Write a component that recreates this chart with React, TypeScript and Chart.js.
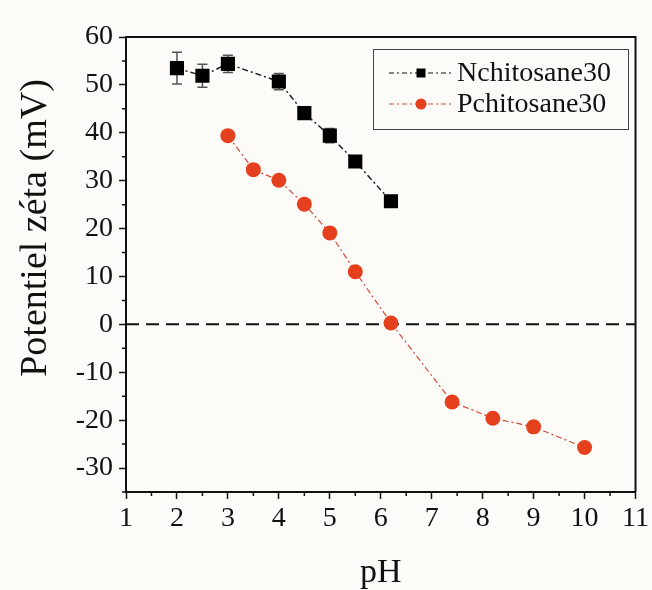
import { useEffect, useRef } from 'react';
import { Chart, registerables } from 'chart.js';

Chart.register(...registerables);

// ---- data ----
const pH_N = [2, 2.5, 3, 4, 4.5, 5, 5.5, 6.2];
const zeta_N = [53.5, 51.9, 54.4, 50.7, 44.1, 39.4, 34.0, 25.7];
const err_N = [3.3, 2.4, 1.8, 1.7, 1.0, 1.5, 1.0, 0.5];

const pH_P = [3, 3.5, 4, 4.5, 5, 5.5, 6.2, 7.4, 8.2, 9, 10];
const zeta_P = [39.4, 32.3, 30.1, 25.1, 19.1, 11.0, 0.3, -16.2, -19.6, -21.4, -25.7];
const err_P = [0.8, 0.6, 0.6, 0.6, 0.6, 0.6, 0.5, 0.5, 0.5, 0.5, 0.5];

const zeroLineX = [1, 11];
const zeroLineY = [0, 0];

const seriesNames = ['Nchitosane30', 'Pchitosane30'];
const xTitle = 'pH';
const yTitle = 'Potentiel zéta (mV)';

const FONT = "'Liberation Serif', 'Times New Roman', serif";
const INK = '#111111';
const RED = '#e5401d';
const RED_LINE = '#cf4a35';

const bgPlugin = {
  id: 'bg',
  beforeDraw(chart: any) {
    const { ctx, width, height } = chart;
    ctx.save();
    ctx.fillStyle = '#fdfbf8';
    ctx.fillRect(0, 0, width, height);
    ctx.restore();
  },
};

const errorBarPlugin = {
  id: 'errorBars',
  beforeDatasetsDraw(chart: any) {
    const { ctx } = chart;
    const xs = chart.scales.x;
    const ys = chart.scales.y;
    chart.data.datasets.forEach((ds: any) => {
      if (!ds.errors) return;
      ctx.save();
      ctx.strokeStyle = ds.errorColor;
      ctx.lineWidth = 1.5;
      ds.data.forEach((p: any, i: number) => {
        const e = ds.errors[i];
        const x = xs.getPixelForValue(p.x);
        const yt = ys.getPixelForValue(p.y + e);
        const yb = ys.getPixelForValue(p.y - e);
        ctx.beginPath();
        ctx.moveTo(x, yt);
        ctx.lineTo(x, yb);
        ctx.moveTo(x - 5, yt);
        ctx.lineTo(x + 5, yt);
        ctx.moveTo(x - 5, yb);
        ctx.lineTo(x + 5, yb);
        ctx.stroke();
      });
      ctx.restore();
    });
  },
};

const framePlugin = {
  id: 'frame',
  afterDraw(chart: any) {
    const { ctx, chartArea: a } = chart;
    const xs = chart.scales.x;
    const ys = chart.scales.y;
    ctx.save();
    ctx.strokeStyle = INK;
    ctx.lineWidth = 2;
    ctx.beginPath();
    ctx.moveTo(a.left, a.top);
    ctx.lineTo(a.right, a.top);
    ctx.lineTo(a.right, a.bottom);
    ctx.stroke();
    // minor ticks
    ctx.lineWidth = 1.5;
    ctx.beginPath();
    xs.ticks.forEach((t: any) => {
      if (Number.isInteger(t.value)) return;
      const x = xs.getPixelForValue(t.value);
      ctx.moveTo(x, a.bottom);
      ctx.lineTo(x, a.bottom + 4);
    });
    ys.ticks.forEach((t: any) => {
      if (t.value % 10 === 0) return;
      const y = ys.getPixelForValue(t.value);
      ctx.moveTo(a.left, y);
      ctx.lineTo(a.left - 4, y);
    });
    ctx.stroke();
    // y axis title
    ctx.translate(36, 228);
    ctx.rotate(-Math.PI / 2);
    ctx.fillStyle = INK;
    ctx.font = `38px ${FONT}`;
    ctx.textAlign = 'center';
    ctx.textBaseline = 'middle';
    ctx.fillText(yTitle, 0, 0);
    ctx.restore();
  },
};

const legendPlugin = {
  id: 'customLegend',
  afterDraw(chart: any) {
    const { ctx } = chart;
    const box = { x: 373, y: 49, w: 255, h: 80 };
    ctx.save();
    ctx.fillStyle = '#fdfbf8';
    ctx.fillRect(box.x, box.y, box.w, box.h);
    ctx.strokeStyle = '#444';
    ctx.lineWidth = 1;
    ctx.strokeRect(box.x + 0.5, box.y + 0.5, box.w, box.h);
    const rows = [
      { name: seriesNames[0], line: INK, marker: 'rect', color: '#000' },
      { name: seriesNames[1], line: RED_LINE, marker: 'circle', color: RED },
    ];
    rows.forEach((r, i) => {
      const cy = box.y + 24 + i * 31;
      ctx.strokeStyle = r.line;
      ctx.lineWidth = 1.2;
      ctx.setLineDash([5, 3, 2, 3]);
      ctx.beginPath();
      ctx.moveTo(389, cy);
      ctx.lineTo(453, cy);
      ctx.stroke();
      ctx.setLineDash([]);
      ctx.fillStyle = r.color;
      if (r.marker === 'rect') {
        ctx.fillRect(421 - 4.5, cy - 4.5, 9, 9);
      } else {
        ctx.beginPath();
        ctx.arc(421, cy, 5.5, 0, Math.PI * 2);
        ctx.fill();
      }
      ctx.fillStyle = INK;
      ctx.font = `28px ${FONT}`;
      ctx.textBaseline = 'middle';
      ctx.textAlign = 'left';
      ctx.fillText(r.name, 457, cy + 1);
    });
    ctx.restore();
  },
};

export default function App() {
  const ref = useRef<HTMLCanvasElement>(null);

  useEffect(() => {
    document.body.style.margin = '0';
    const canvas = ref.current;
    if (!canvas) return;
    const chart = new Chart(canvas, {
      type: 'scatter',
      data: {
        datasets: [
          {
            label: 'zero',
            data: zeroLineX.map((x, i) => ({ x, y: zeroLineY[i] })),
            showLine: true,
            borderColor: INK,
            borderWidth: 2,
            borderDash: [13, 7],
            pointRadius: 0,
            order: 3,
          } as any,
          {
            label: seriesNames[1],
            data: pH_P.map((x, i) => ({ x, y: zeta_P[i] })),
            showLine: true,
            borderColor: RED_LINE,
            borderWidth: 1.2,
            borderDash: [6, 3, 2, 3],
            pointStyle: 'circle',
            pointRadius: 7.5,
            pointBackgroundColor: RED,
            pointBorderColor: RED,
            pointBorderWidth: 0,
            errors: err_P,
            errorColor: '#b0402a',
            order: 2,
          } as any,
          {
            label: seriesNames[0],
            data: pH_N.map((x, i) => ({ x, y: zeta_N[i] })),
            showLine: true,
            borderColor: INK,
            borderWidth: 1.4,
            borderDash: [6, 3, 2, 3],
            pointStyle: 'rect',
            pointRadius: 10,
            pointBackgroundColor: '#000',
            pointBorderColor: '#000',
            pointBorderWidth: 0,
            errors: err_N,
            errorColor: '#555555',
            order: 1,
          } as any,
        ],
      },
      options: {
        responsive: false,
        animation: false,
        layout: { padding: { top: 37, right: 12, left: 0, bottom: 0 } },
        plugins: {
          legend: { display: false },
          tooltip: { enabled: false },
        },
        scales: {
          x: {
            type: 'linear',
            min: 1,
            max: 11,
            afterFit: (s: any) => {
              s.height = 98;
            },
            ticks: {
              stepSize: 0.5,
              autoSkip: false,
              maxRotation: 0,
              color: INK,
              padding: 3,
              font: { family: FONT, size: 28 },
              callback: (v: any) => (Number.isInteger(v) ? String(v) : ''),
            },
            grid: {
              drawOnChartArea: false,
              tickLength: 7,
              tickWidth: 1.5,
              tickColor: (c: any) =>
                c.tick && Number.isInteger(c.tick.value) ? INK : 'rgba(0,0,0,0)',
            },
            border: { color: INK, width: 2 },
            title: {
              display: true,
              text: xTitle,
              color: INK,
              font: { family: FONT, size: 34 },
              padding: { top: 0, bottom: -3 },
            },
          },
          y: {
            type: 'linear',
            min: -35,
            max: 60,
            afterFit: (s: any) => {
              s.width = 126;
            },
            ticks: {
              stepSize: 5,
              autoSkip: false,
              color: INK,
              padding: 6,
              font: { family: FONT, size: 28 },
              callback: (v: any) => (v % 10 === 0 ? String(v) : ''),
            },
            grid: {
              drawOnChartArea: false,
              tickLength: 7,
              tickWidth: 1.5,
              tickColor: (c: any) =>
                c.tick && c.tick.value % 10 === 0 ? INK : 'rgba(0,0,0,0)',
            },
            border: { color: INK, width: 2 },
            title: { display: false },
          },
        },
      },
      plugins: [bgPlugin, errorBarPlugin, framePlugin, legendPlugin],
    });
    return () => chart.destroy();
  }, []);

  return (
    <div style={{ width: 652, height: 590 }}>
      <canvas ref={ref} width={652} height={590} />
    </div>
  );
}
